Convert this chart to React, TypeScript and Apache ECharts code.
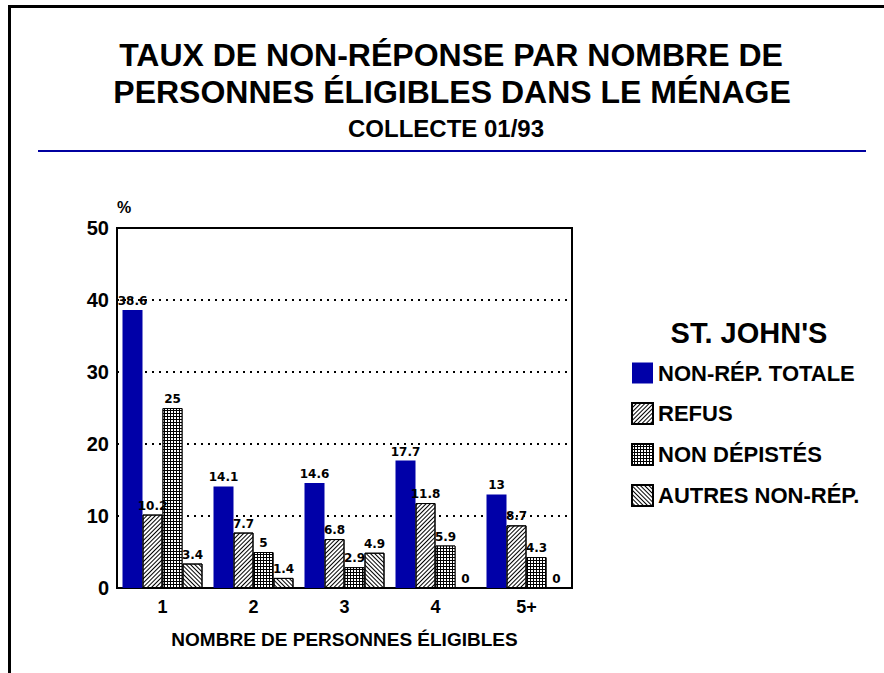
import React, { useEffect, useRef } from "react";
import * as echarts from "echarts";

const categories = ["1", "2", "3", "4", "5+"];
const seriesNames = ["NON-RÉP. TOTALE", "REFUS", "NON DÉPISTÉS", "AUTRES NON-RÉP."];
const totale = [38.6, 14.1, 14.6, 17.7, 13];
const refus = [10.2, 7.7, 6.8, 11.8, 8.7];
const nonDepistes = [25, 5, 2.9, 5.9, 4.3];
const autres = [3.4, 1.4, 4.9, 0, 0];
const yTicks = { min: 0, max: 50, interval: 10 };

const titleLine1 = "TAUX DE NON-RÉPONSE PAR NOMBRE DE";
const titleLine2 = "PERSONNES ÉLIGIBLES DANS LE MÉNAGE";
const subtitle = "COLLECTE 01/93";
const legendTitle = "ST. JOHN'S";
const xName = "NOMBRE DE PERSONNES ÉLIGIBLES";
const yName = "%";

const FONT = '"Liberation Sans", Arial, sans-serif';
const BLUE = "#0000A8";

export default function App() {
  const ref = useRef<HTMLDivElement>(null);
  useEffect(() => {
    if (!ref.current) return;
    const chart = echarts.init(ref.current, undefined, { renderer: "svg" });
    const label = {
      show: true,
      position: "top" as const,
      distance: 3,
      color: "#000",
      fontFamily: '"DejaVu Sans", sans-serif',
      fontWeight: "bold" as const,
      fontSize: 12,
    };
    const hatchFwd = {
      symbol: "rect",
      symbolSize: 1,
      color: "#000",
      backgroundColor: "#fff",
      dashArrayX: [1, 0],
      dashArrayY: [1, 2],
      rotation: -Math.PI / 4,
    };
    const hatchBack = { ...hatchFwd, rotation: Math.PI / 4 };
    const grid = {
      symbol: "rect",
      symbolSize: 1,
      color: "#fff",
      backgroundColor: "#000",
      dashArrayX: [2, 1],
      dashArrayY: [2, 1],
      rotation: 0,
    };
    const data = [totale, refus, nonDepistes, autres];
    const styles: any[] = [
      { color: BLUE },
      { color: "#fff", borderColor: "#000", borderWidth: 1, decal: hatchFwd },
      { color: "#000", borderColor: "#000", borderWidth: 1, decal: grid },
      { color: "#fff", borderColor: "#000", borderWidth: 1, decal: hatchBack },
    ];
    chart.setOption({
      animation: false,
      backgroundColor: "#fff",
      grid: {
        left: 117,
        right: 312,
        top: 228,
        bottom: 85,
        show: true,
        borderColor: "#000",
        borderWidth: 2,
        backgroundColor: "transparent",
      },
      legend: {
        orient: "vertical",
        left: 631,
        top: 362,
        padding: 0,
        itemWidth: 21,
        itemHeight: 21,
        itemGap: 18,
        icon: "rect",
        data: seriesNames,
        selectedMode: false,
        textStyle: {
          color: "#000",
          fontFamily: FONT,
          fontWeight: "bold",
          fontSize: 22,
          lineHeight: 21,
        },
      },
      xAxis: {
        type: "category",
        data: categories,
        axisLine: { show: true, lineStyle: { color: "#000", width: 2 } },
        axisTick: { show: false },
        axisLabel: {
          color: "#000",
          fontFamily: FONT,
          fontWeight: "bold",
          fontSize: 18,
          margin: 10,
        },
        name: xName,
        nameLocation: "middle",
        nameGap: 42,
        nameTextStyle: {
          color: "#000",
          fontFamily: FONT,
          fontWeight: "bold",
          fontSize: 19,
        },
      },
      yAxis: {
        type: "value",
        min: yTicks.min,
        max: yTicks.max,
        interval: yTicks.interval,
        axisLine: { show: true, lineStyle: { color: "#000", width: 2 } },
        axisTick: { show: false },
        axisLabel: {
          color: "#000",
          fontFamily: FONT,
          fontWeight: "bold",
          fontSize: 20,
          margin: 8,
        },
        splitLine: {
          show: true,
          lineStyle: { color: "#000", type: [2, 5], width: 2 },
        },
      },
      series: seriesNames.map((name, i) => ({
        name,
        type: "bar",
        data: data[i],
        barWidth: 20,
        barGap: "0%",
        itemStyle: styles[i],
        label,
      })),
      graphic: [
        { type: "line", shape: { x1: 8, y1: 6.5, x2: 884, y2: 6.5 }, style: { stroke: "#000", lineWidth: 3 } },
        { type: "line", shape: { x1: 9.5, y1: 5, x2: 9.5, y2: 673 }, style: { stroke: "#000", lineWidth: 3 } },
        {
          type: "text", x: 451, y: 55,
          style: { text: titleLine1, font: `bold 32px ${FONT}`, fill: "#000", textAlign: "center", textVerticalAlign: "middle" },
        },
        {
          type: "text", x: 452, y: 92,
          style: { text: titleLine2, font: `bold 32px ${FONT}`, fill: "#000", textAlign: "center", textVerticalAlign: "middle" },
        },
        {
          type: "text", x: 446, y: 128,
          style: { text: subtitle, font: `bold 24px ${FONT}`, fill: "#000", textAlign: "center", textVerticalAlign: "middle" },
        },
        { type: "line", shape: { x1: 38, y1: 151, x2: 866, y2: 151 }, style: { stroke: "#0000A0", lineWidth: 2 } },
        {
          type: "text", x: 124, y: 207,
          style: { text: yName, font: `bold 16px ${FONT}`, fill: "#000", textAlign: "center", textVerticalAlign: "middle" },
        },
        {
          type: "text", x: 749, y: 333,
          style: { text: legendTitle, font: `bold 29px ${FONT}`, fill: "#000", textAlign: "center", textVerticalAlign: "middle" },
        },
      ],
    });
    return () => chart.dispose();
  }, []);
  return <div ref={ref} style={{ width: 884, height: 673, position: "absolute", left: 0, top: 0 }} />;
}
